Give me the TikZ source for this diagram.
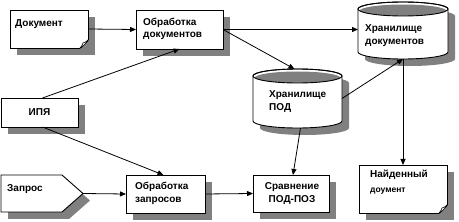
\documentclass[tikz,border=0pt]{standalone}
\usepackage{fontspec}
\setmainfont{Liberation Sans}
\usetikzlibrary{arrows.meta,shadows,calc}
\definecolor{shadowgray}{RGB}{128,128,128}
\begin{document}
\begin{tikzpicture}[x=1pt,y=-1pt,
  shadowed/.style={drop shadow={shadow xshift=7pt,shadow yshift=-7pt,fill=shadowgray,opacity=1}},
  box/.style={draw,fill=white,line width=0.9pt,inner sep=0pt,outer sep=0pt,shadowed},
  area/.style={inner sep=0pt,outer sep=0pt},
  outl/.style={draw,fill=white,line width=0.9pt},
  lbl/.style={font=\fontsize{10}{12}\selectfont\bfseries,inner sep=0pt,anchor=base west},
  clbl/.style={font=\fontsize{10}{12}\selectfont\bfseries,inner sep=0pt,anchor=base},
  conn/.style={line width=0.8pt,-{Triangle[length=6pt,width=5pt]}}
]
\useasboundingbox[fill=white] (0,0) rectangle (459,222);

% --- rectangular boxes
\node[box,minimum width=78pt,minimum height=38pt] (doc1) at (49,29) {};
\node[box,minimum width=87pt,minimum height=39pt] (obd) at (179.5,29.5) {};
\node[box,minimum width=77pt,minimum height=29pt] (ipa) at (39.5,112.5) {};
\node[box,minimum width=79pt,minimum height=38pt] (obz) at (165.5,194) {};
\node[box,minimum width=76pt,minimum height=37pt] (srv) at (291,193.5) {};
\node[box,minimum width=88pt,minimum height=48pt] (nd) at (403,189) {};

% folded corners
\foreach \n in {doc1,nd}{
  \fill[shadowgray] ($(\n.south east)+(-8,1)$) -- ($(\n.south east)+(1,1)$) -- ($(\n.south east)+(1,-8)$) -- cycle;
  \draw[line width=0.9pt,line join=round] ($(\n.south east)+(0,-8)$) -- ($(\n.south east)+(-8,0)$);
  \draw[line width=0.6pt,fill=white,line join=round] ($(\n.south east)+(-7,0)$) -- ($(\n.south east)+(-5,-5)$) -- ($(\n.south east)+(0,-7)$) -- cycle;
}

% --- pentagon
\node[area,minimum width=82pt,minimum height=37pt] (zap) at (42,193.5) {};
\path[outl,shadowed] (zap.north west) -- ($(zap.north east)+(-21,0)$) -- (zap.east) -- ($(zap.south east)+(-21,0)$) -- (zap.south west) -- cycle;

% --- cylinders
\node[area,minimum width=89pt,minimum height=59pt] (hpod) at (297.5,98.5) {};
\path[outl,shadowed] (253,76) -- (253,121) arc[start angle=180,end angle=0,x radius=44.5,y radius=7] -- (342,76) arc[start angle=0,end angle=-180,x radius=44.5,y radius=7] -- cycle;
\begin{scope}
  \clip (297.5,76) ellipse[x radius=44.5,y radius=7];
  \fill[shadowgray] (297.5,78) ellipse[x radius=43,y radius=6.5];
\end{scope}
\draw[line width=0.9pt] (297.5,76) ellipse[x radius=44.5,y radius=7];

\node[area,minimum width=90pt,minimum height=57pt] (hdoc) at (403,30.5) {};
\path[outl,shadowed] (358,9) -- (358,52) arc[start angle=180,end angle=0,x radius=45,y radius=7] -- (448,9) arc[start angle=0,end angle=-180,x radius=45,y radius=7] -- cycle;
\begin{scope}
  \clip (403,9) ellipse[x radius=45,y radius=7];
  \fill[shadowgray] (403,11) ellipse[x radius=43.5,y radius=6.5];
\end{scope}
\draw[line width=0.9pt] (403,9) ellipse[x radius=45,y radius=7];

% --- labels
\node[lbl] (t1) at ($(doc1.north west)+(5,16.5)$) {Документ};
\node[lbl] (t2a) at ($(obd.north west)+(7,16)$) {Обработка};
\node[lbl] (t2b) at ($(obd.north west)+(7,28)$) {документов};
\node[clbl] (t3) at ($(ipa.center)+(0,3)$) {ИПЯ};
\node[lbl] (t4) at ($(zap.north west)+(6,16.5)$) {Запрос};
\node[lbl] (t5a) at ($(obz.north west)+(9,15)$) {Обработка};
\node[lbl] (t5b) at ($(obz.north west)+(9,27.5)$) {запросов};
\node[clbl] (t6a) at ($(srv.north)+(1,15)$) {Сравнение};
\node[clbl] (t6b) at ($(srv.north)+(1,28)$) {ПОД-ПОЗ};
\node[lbl] (t7a) at (269,98) {Хранилище};
\node[lbl] (t7b) at (269,110.5) {ПОД};
\node[lbl] (t8a) at (365,32) {Хранилище};
\node[lbl] (t8b) at (365,45) {документов};
\node[lbl] (t9a) at ($(nd.north west)+(11,13)$) {Найденный};
\node[lbl,font=\fontsize{8.5}{12}\selectfont\bfseries] (t9b) at ($(nd.north west)+(11,27.5)$) {доумент};

% --- connectors
\draw[conn] (doc1.east) -- (obd.west);
\draw[conn] (obd.east) -- (obd.east -| hdoc.west);
\draw[conn] (obd.east) -- ($(hpod.north)+(-3,0)$);
\draw[conn] ($(ipa.north)+(3,0)$) -- (obd.south);
\draw[conn] ($(ipa.south)+(3,0)$) -- ($(obz.north)+(-2,0)$);
\draw[conn] (zap.east) -- (obz.west);
\draw[conn] (obz.east) -- (srv.west);
\draw[conn] ($(hpod.south)+(3,0)$) -- ($(srv.north)+(2,0)$);
\draw[conn] (hpod.east) -- (hdoc.south);
\draw[conn] (hdoc.south) -- (nd.north);
\end{tikzpicture}
\end{document}
